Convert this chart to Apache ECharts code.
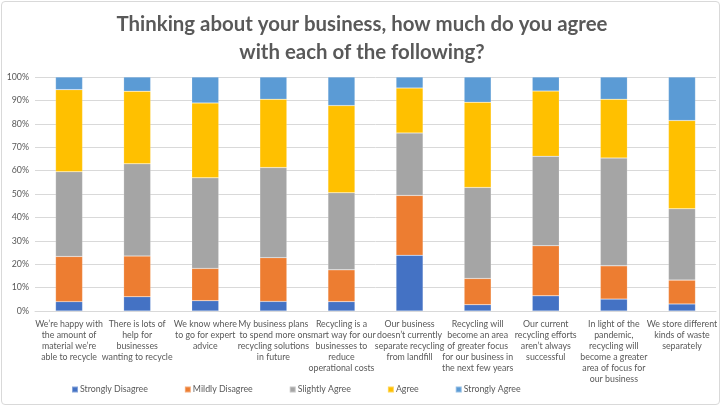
<!DOCTYPE html>
<html>
<head>
<meta charset="utf-8">
<script src="https://cdn.jsdelivr.net/npm/echarts@6/dist/echarts.min.js"></script>
<style>
  html, body { margin: 0; padding: 0; background: #fff; }
  #frame {
    position: absolute; left: 1px; top: 1px; width: 719px; height: 404px;
    border: 1px solid #d9d9d9; border-radius: 4px; box-sizing: border-box;
  }
  #chart { position: absolute; left: 0; top: 0; width: 724px; height: 410px; }
</style>
</head>
<body>
<div id="frame"></div>
<div id="chart"></div>
<script>
// Survey statements (tick labels on the category axis)
const categories = [
  "We’re happy with\nthe amount of\nmaterial we’re\nable to recycle",
  "There is lots of\nhelp for\nbusinesses\nwanting to recycle",
  "We know where\nto go for expert\nadvice",
  "My business plans\nto spend more on\nrecycling solutions\nin future",
  "Recycling is a\nsmart way for our\nbusinesses to\nreduce\noperational costs",
  "Our business\ndoesn’t currently\nseparate recycling\nfrom landfill",
  "Recycling will\nbecome an area\nof greater focus\nfor our business in\nthe next few years",
  "Our current\nrecycling efforts\naren’t always\nsuccessful",
  "In light of the\npandemic,\nrecycling will\nbecome a greater\narea of focus for\nour business",
  "We store different\nkinds of waste\nseparately"
];

// Share of respondents (%) per answer
const stronglyDisagree = [4.0, 6.1, 4.4, 4.1, 4.0, 23.8, 2.7, 6.5, 5.1, 3.0];
const mildlyDisagree   = [19.3, 17.4, 13.8, 18.7, 13.6, 25.6, 11.2, 21.4, 14.2, 10.2];
const slightlyAgree    = [36.2, 39.4, 38.7, 38.5, 32.9, 26.7, 38.9, 38.2, 46.1, 30.5];
const agree            = [35.1, 31.0, 32.0, 29.2, 37.3, 19.2, 36.4, 27.9, 25.1, 37.7];
const stronglyAgree    = [5.4, 6.1, 11.1, 9.5, 12.2, 4.7, 10.8, 6.0, 9.5, 18.6];

const seriesNames = ["Strongly Disagree", "Mildly Disagree", "Slightly Agree", "Agree", "Strongly Agree"];
const seriesData = [stronglyDisagree, mildlyDisagree, slightlyAgree, agree, stronglyAgree];
const colors = ["#4472C4", "#ED7D31", "#A5A5A5", "#FFC000", "#5B9BD5"];

const FONT = "Lato, 'Open Sans', sans-serif";
const chart = echarts.init(document.getElementById("chart"), null, { renderer: "canvas" });

chart.setOption({
  animation: false,
  color: colors,
  title: {
    text: "Thinking about your business, how much do you agree\nwith each of the following?",
    left: "center",
    top: 5,
    textStyle: { fontFamily: FONT, fontSize: 20.4, fontWeight: "bold", color: "#595959", lineHeight: 28 }
  },
  grid: { left: 35, right: 8, top: 77, bottom: 99, containLabel: false },
  legend: {
    bottom: 11,
    left: 66,
    itemWidth: 6,
    itemHeight: 6,
    itemGap: 36,
    icon: "rect",
    textStyle: { fontFamily: FONT, fontSize: 8.8, color: "#595959", padding: [0, 0, 0, -3] },
    data: seriesNames
  },
  xAxis: {
    type: "category",
    data: categories,
    axisLine: { lineStyle: { color: "#d9d9d9" } },
    axisTick: { show: false },
    axisLabel: {
      interval: 0,
      fontFamily: FONT,
      fontSize: 8.8,
      lineHeight: 11,
      color: "#595959",
      margin: 8,
      verticalAlign: "top"
    }
  },
  yAxis: {
    type: "value",
    min: 0,
    max: 100,
    interval: 10,
    axisLabel: { formatter: "{value}%", fontFamily: FONT, fontSize: 8.8, color: "#595959", margin: 6 },
    axisLine: { show: false },
    axisTick: { show: false },
    splitLine: { lineStyle: { color: "#d9d9d9" } }
  },
  series: seriesNames.map((name, i) => ({
    name: name,
    type: "bar",
    stack: "total",
    barWidth: 27,
    data: seriesData[i],
    itemStyle: { borderColor: "rgba(255,255,255,0.35)", borderWidth: 0.5 }
  }))
});
</script>
</body>
</html>
